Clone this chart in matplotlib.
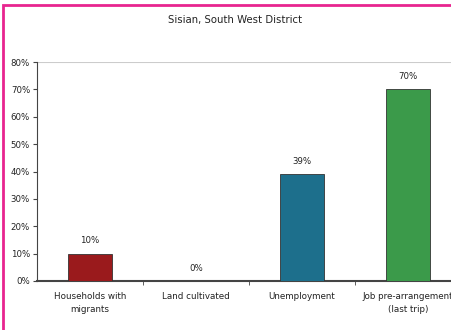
import matplotlib
matplotlib.use("Agg")
import matplotlib.pyplot as plt
from matplotlib.patches import Rectangle
from matplotlib.ticker import FixedLocator

categories = ["Households with\nmigrants", "Land cultivated", "Unemployment", "Job pre-arrangement\n(last trip)"]
values = [0.10, 0.0, 0.39, 0.70]
value_labels = ["10%", "0%", "39%", "70%"]
y_ticks = [0, 0.1, 0.2, 0.3, 0.4, 0.5, 0.6, 0.7, 0.8]
y_tick_labels = ["0%", "10%", "20%", "30%", "40%", "50%", "60%", "70%", "80%"]
title = "Sisian, South West District"
colors = ["#9a1a1c", "#1d6f8c", "#3b9a4a"]
bar_colors = [colors[0], colors[0], colors[1], colors[2]]

fig = plt.figure(figsize=(4.51, 3.30), dpi=100)
fig.patch.set_facecolor("white")

ax = fig.add_axes([37/451, 1-281/330, 424/451, (281-62)/330])
x = list(range(len(categories)))
ax.bar(x, values, width=0.42, color=bar_colors, edgecolor="#333333", linewidth=0.6, zorder=3)
ax.set_xlim(-0.5, 3.5)
ax.set_ylim(0, 0.8)
ax.set_yticks(y_ticks)
ax.set_yticklabels(y_tick_labels, fontsize=6.2, color="#222222")
ax.set_xticks(x)
ax.set_xticklabels(categories, fontsize=6.3, color="#222222", linespacing=1.5)
ax.tick_params(axis="x", length=0, pad=8)
ax.xaxis.set_minor_locator(FixedLocator([0.5, 1.5, 2.5]))
ax.tick_params(axis="x", which="minor", length=3, color="#444444")
ax.tick_params(axis="y", length=3, color="#444444", pad=2)
for s in ["top", "right"]:
    ax.spines[s].set_visible(False)
ax.spines["left"].set_color("#444444")
ax.spines["bottom"].set_color("#444444")
ax.spines["bottom"].set_linewidth(1.5)
ax.axhline(0.8, color="#cccccc", linewidth=0.8, zorder=1)
for xi, v, lab in zip(x, values, value_labels):
    ax.text(xi, v + 0.03, lab, ha="center", va="bottom", fontsize=6.2, color="#222222")

fig.text(235/451, 1-20/330, title, ha="center", va="center", fontsize=7.3, color="#222222")

# pink frame
fig.patches.append(Rectangle((3/451, -0.05), 1.1, 1 - 5/330 + 0.05, transform=fig.transFigure,
                             fill=False, edgecolor="#e8258f", linewidth=2, zorder=10))

fig.savefig("out.png", dpi=100)
